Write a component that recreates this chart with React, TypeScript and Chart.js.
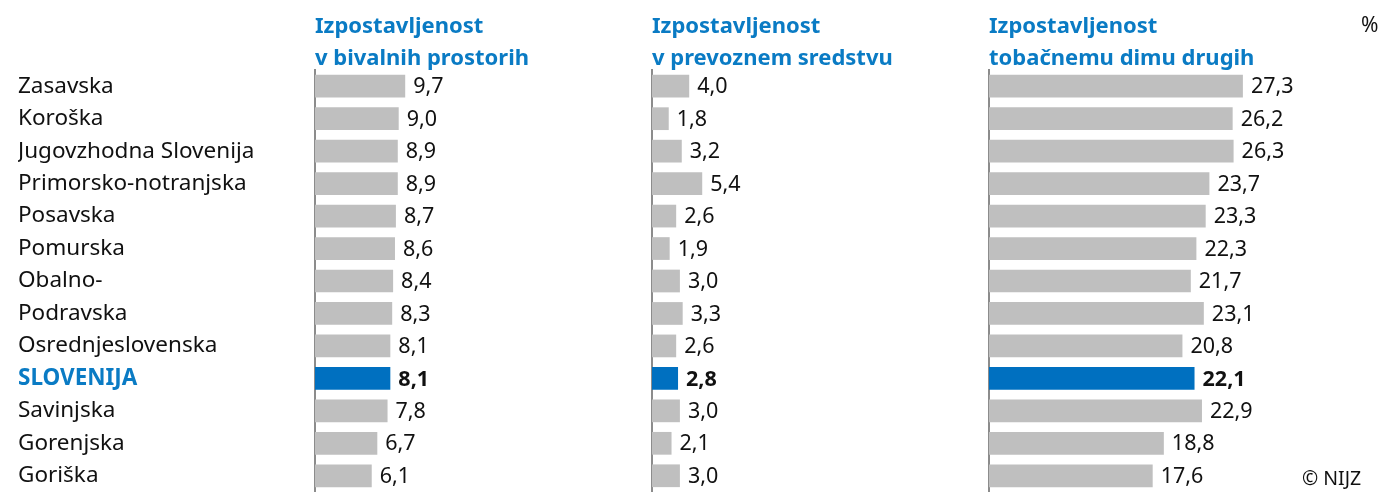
import React, { useEffect, useRef } from 'react';
import { Chart, registerables } from 'chart.js';

Chart.register(...registerables);

const regions = [
  'Zasavska',
  'Koroška',
  'Jugovzhodna Slovenija',
  'Primorsko-notranjska',
  'Posavska',
  'Pomurska',
  'Obalno-',
  'Podravska',
  'Osrednjeslovenska',
  'SLOVENIJA',
  'Savinjska',
  'Gorenjska',
  'Goriška',
];

const livingSpaces = [9.7, 9.0, 8.9, 8.9, 8.7, 8.6, 8.4, 8.3, 8.1, 8.1, 7.8, 6.7, 6.1];
const vehicle = [4.0, 1.8, 3.2, 5.4, 2.6, 1.9, 3.0, 3.3, 2.6, 2.8, 3.0, 2.1, 3.0];
const othersSmoke = [27.3, 26.2, 26.3, 23.7, 23.3, 22.3, 21.7, 23.1, 20.8, 22.1, 22.9, 18.8, 17.6];

const titleLiving = ['Izpostavljenost', 'v bivalnih prostorih'];
const titleVehicle = ['Izpostavljenost', 'v prevoznem sredstvu'];
const titleOthers = ['Izpostavljenost', 'tobačnemu dimu drugih'];

const highlight = 'SLOVENIJA';
const unitLabel = '%';
const sourceLabel = '© NIJZ';

const FONT = "'Noto Sans', sans-serif";
const GREY = '#BFBFBF';
const BLUE = '#0070C0';
const TITLE_BLUE = '#0A7BC4';
const TEXT = '#111111';
const PX_PER_UNIT = 9.3;
const H = 492;

const fmt = (v: number) => v.toFixed(1).replace('.', ',');

const valueLabels = {
  id: 'valueLabels',
  afterDatasetsDraw(chart: any) {
    const { ctx } = chart;
    const meta = chart.getDatasetMeta(0);
    const data = chart.data.datasets[0].data as number[];
    ctx.save();
    ctx.textBaseline = 'middle';
    ctx.textAlign = 'left';
    ctx.fillStyle = TEXT;
    meta.data.forEach((el: any, i: number) => {
      const bold = chart.data.labels[i] === highlight;
      ctx.font = `${bold ? 'bold ' : ''}21.5px ${FONT}`;
      ctx.fillText(fmt(data[i]), el.x + 8, el.y + 1);
    });
    ctx.restore();
  },
};

type PanelProps = {
  values: number[];
  title: string[];
  left: number;
  width: number;
  padLeft: number;
  axisWidth: number;
  showLabels: boolean;
};

function Panel({ values, title, left, width, padLeft, axisWidth, showLabels }: PanelProps) {
  const ref = useRef<HTMLCanvasElement | null>(null);

  useEffect(() => {
    if (!ref.current) return;
    const areaWidth = width - padLeft - axisWidth;
    const chart = new Chart(ref.current, {
      type: 'bar',
      data: {
        labels: regions,
        datasets: [
          {
            data: values,
            backgroundColor: regions.map((r) => (r === highlight ? BLUE : GREY)),
            borderWidth: 0,
            barPercentage: 0.7,
            categoryPercentage: 1,
          },
        ],
      },
      options: {
        indexAxis: 'y',
        responsive: false,
        animation: false,
        devicePixelRatio: 1,
        layout: { padding: { left: padLeft, right: 0, top: 0, bottom: 0 } },
        plugins: {
          legend: { display: false },
          tooltip: { enabled: false },
          title: {
            display: true,
            text: title,
            align: 'start',
            fullSize: false,
            color: TITLE_BLUE,
            font: { family: FONT, size: 22, weight: 'bold', lineHeight: '32px' },
            padding: { top: 11, bottom: -5 },
          },
        },
        scales: {
          x: {
            display: false,
            min: 0,
            max: areaWidth / PX_PER_UNIT,
          },
          y: {
            display: true,
            offset: true,
            grid: { display: false, drawTicks: false },
            border: { display: true, color: '#8C8C8C', width: 2 },
            ticks: {
              display: showLabels,
              crossAlign: 'far',
              padding: 0,
              color: (c: any) => (regions[c.index] === highlight ? TITLE_BLUE : TEXT),
              font: (c: any) => ({
                family: FONT,
                size: 22.5,
                weight: regions[c.index] === highlight ? 'bold' : 'normal',
              }),
            },
            afterFit: (scale: any) => {
              scale.width = axisWidth;
              scale.paddingTop = 0;
              scale.paddingBottom = 0;
            },
          },
        },
      },
      plugins: [valueLabels],
    });
    return () => chart.destroy();
  }, [values, title, left, width, padLeft, axisWidth, showLabels]);

  return (
    <canvas
      ref={ref}
      width={width}
      height={H}
      style={{ position: 'absolute', left, top: 0, width, height: H }}
    />
  );
}

export default function App() {
  return (
    <div
      style={{
        position: 'absolute',
        left: 0,
        top: 0,
        width: 1387,
        height: H,
        background: '#ffffff',
        overflow: 'hidden',
        fontFamily: FONT,
      }}
    >
      <Panel values={livingSpaces} title={titleLiving} left={0} width={640} padLeft={18} axisWidth={297} showLabels={true} />
      <Panel values={vehicle} title={titleVehicle} left={640} width={345} padLeft={12} axisWidth={0} showLabels={false} />
      <Panel values={othersSmoke} title={titleOthers} left={985} width={402} padLeft={4} axisWidth={0} showLabels={false} />
      <div style={{ position: 'absolute', left: 1361, top: 11, fontSize: 21, color: TEXT, lineHeight: '26px' }}>{unitLabel}</div>
      <div style={{ position: 'absolute', left: 1302, top: 465, fontSize: 19.5, color: TEXT, lineHeight: '26px' }}>{sourceLabel}</div>
    </div>
  );
}
